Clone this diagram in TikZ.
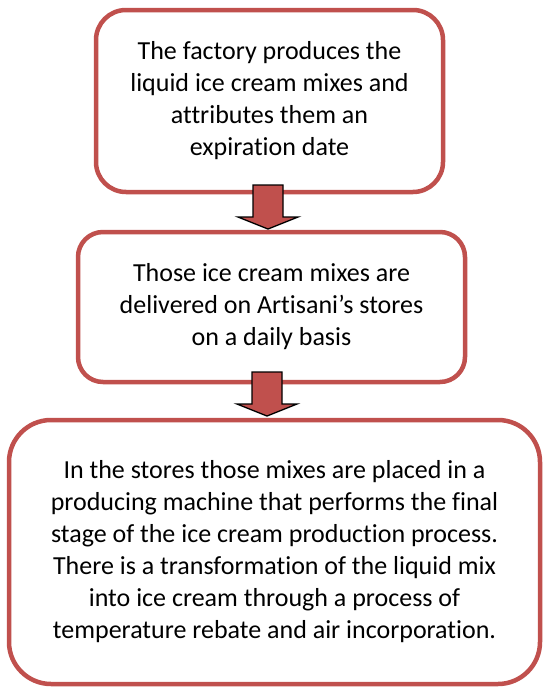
\documentclass[tikz,border=0pt]{standalone}
\usepackage{fontspec}
\setmainfont[Ligatures=NoCommon]{Carlito}
\definecolor{boxred}{HTML}{C0504D}
\begin{document}
\begin{tikzpicture}[x=1pt,y=-1pt,
  flowbox/.style={draw=boxred, line width=4.5pt, fill=white, align=center,
    font=\fontsize{26}{32}\selectfont, inner sep=0pt},
  blockarrow/.style={draw=black, line width=1.3pt, fill=boxred, line join=miter}]
\useasboundingbox (0,0) rectangle (545,688);
\node[flowbox, rounded corners=30pt, minimum width=347pt, minimum height=182pt] (b1) at (269.5,101)
  {The factory produces the\\liquid ice cream mixes and\\attributes them an\\expiration date};
\node[flowbox, rounded corners=25pt, minimum width=387pt, minimum height=150pt] (b2) at (271.5,307)
  {Those ice cream mixes are\\delivered on Artisani’s stores\\ on a daily basis};
\node[flowbox, rounded corners=42pt, minimum width=531pt, minimum height=264pt] (b3) at (274.5,552)
  {In the stores those mixes are placed in a\\producing machine that performs the final\\stage of the ice cream production process.\\There is a transformation of the liquid mix\\into ice cream through a process of\\temperature rebate and air incorporation.};
\coordinate (a1) at (268,185);
\coordinate (a2) at (267,372);
\foreach \c in {a1,a2}
  \draw[blockarrow, shift={(\c)}] (-15,0) -- (15,0) -- (15,32) -- (30,32) -- (0,44) -- (-30,32) -- (-15,32) -- cycle;
\end{tikzpicture}
\end{document}
